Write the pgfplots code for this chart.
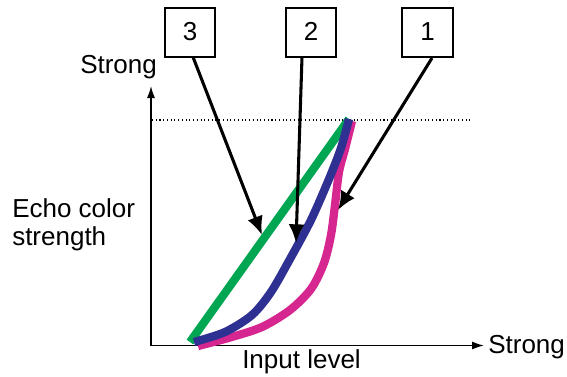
\documentclass[border=0pt]{standalone}
\usepackage{pgfplots}
\pgfplotsset{compat=1.18}
\usepackage{fontspec}
\setmainfont{Liberation Sans}
\usetikzlibrary{arrows.meta}

\definecolor{cgreen}{RGB}{0,166,81}
\definecolor{cblue}{RGB}{46,49,146}
\definecolor{cmag}{RGB}{214,38,143}

\begin{document}
\begin{tikzpicture}
\begin{axis}[
    width=425.25pt, height=282pt,
    scale only axis,
    xmin=0, xmax=567, ymin=0, ymax=376,
    y dir=reverse,
    hide axis,
    clip=false,
]
\path (axis cs:0,0) rectangle (axis cs:567,376);

% axes and reference level
\draw[line width=1.1pt, -{Latex[length=9pt,width=6pt]}] (axis cs:151,346) -- (axis cs:151,86);
\draw[line width=1.1pt, -{Latex[length=9pt,width=6pt]}] (axis cs:150,345.5) -- (axis cs:484,345.5);
\draw[line width=0.8pt, dotted] (axis cs:152,120) -- (axis cs:472,120);

% curves
\addplot[cgreen, line width=6.2pt] coordinates {(190,342) (349,119)};
\addplot[cmag, line width=6.2pt, smooth] coordinates {
  (198,346) (230,337.5) (262,327) (290,310) (311,289) (324,263)
  (331,235) (335,205) (339,172) (345,149) (352,121)};
\addplot[cblue, line width=6.2pt, smooth] coordinates {
  (194,342) (225,332) (252,315) (271,292) (290,259) (311,220)
  (329,179) (341,148) (349,119)};

% pointers
\addplot[black, line width=2.3pt, -{Latex[length=14pt,width=12pt]}] coordinates {(193,57) (262,235)};
\addplot[black, line width=2.3pt, -{Latex[length=14pt,width=12pt]}] coordinates {(302,57) (296,243)};
\addplot[black, line width=2.3pt, -{Latex[length=14pt,width=12pt]}] coordinates {(432,58) (338,210)};

% boxes
\draw[line width=1.1pt, fill=white] (axis cs:165,8) rectangle (axis cs:215,57);
\draw[line width=1.1pt, fill=white] (axis cs:286,8) rectangle (axis cs:336,57);
\draw[line width=1.1pt, fill=white] (axis cs:402,8) rectangle (axis cs:453,57);

\begin{scope}[font=\fontsize{19.5}{21}\selectfont, inner sep=0pt]
\node[anchor=base] at (axis cs:190,40) {3};
\node[anchor=base] at (axis cs:311,40) {2};
\node[anchor=base] at (axis cs:427.5,40) {1};
\node[anchor=base west] at (axis cs:80,73) {Strong};
\node[anchor=base west] at (axis cs:12,217) {Echo color};
\node[anchor=base west] at (axis cs:12,245) {strength};
\node[anchor=base west] at (axis cs:242,368) {Input level};
\node[anchor=base west] at (axis cs:488,353) {Strong};
\end{scope}
\end{axis}
\end{tikzpicture}
\end{document}
